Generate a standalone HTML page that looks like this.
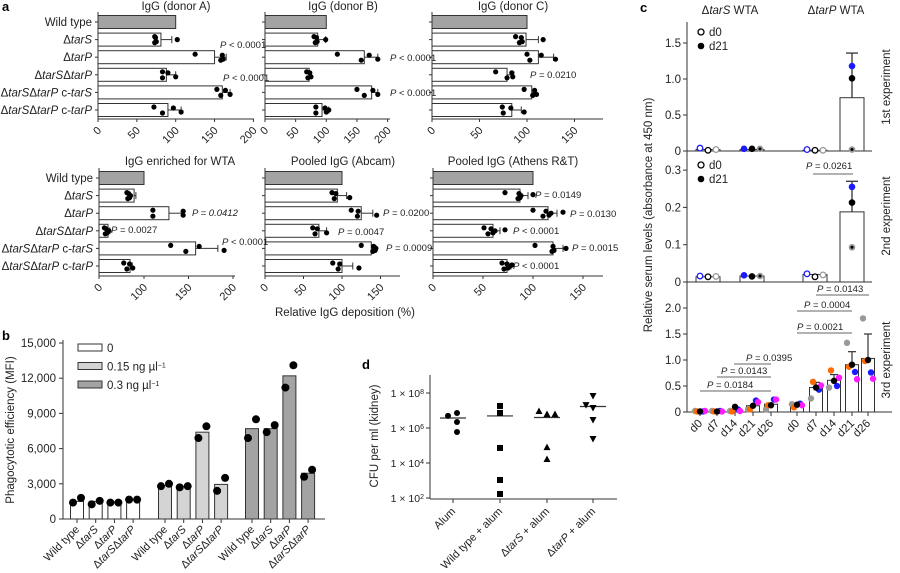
<!DOCTYPE html>
<html><head><meta charset="utf-8">
<style>
html,body{margin:0;padding:0;background:#fff;}
svg{display:block;font-family:"Liberation Sans",sans-serif;}
text{font-size:10.5px;fill:#222;}
.it{font-style:italic;}
.pl{font-size:13px;font-weight:bold;fill:#000;}
</style></head>
<body>
<svg id="fig" width="900" height="573" viewBox="0 0 900 573" xmlns="http://www.w3.org/2000/svg"></svg>
<script>
// ---------- Panel a data ----------
const aCategories = ['Wild type','Δ<tspan class="it">tarS</tspan>','Δ<tspan class="it">tarP</tspan>','Δ<tspan class="it">tarS</tspan>Δ<tspan class="it">tarP</tspan>','Δ<tspan class="it">tarS</tspan>Δ<tspan class="it">tarP</tspan> c-<tspan class="it">tarS</tspan>','Δ<tspan class="it">tarS</tspan>Δ<tspan class="it">tarP</tspan> c-<tspan class="it">tarP</tspan>'];
const donorAMeans = [100,81,150,88,160,90];
const donorAErr = [null,95,165,100,170,107];
const donorAPts = [[],[73,73,74,75,102],[125,158,160,161],[83,83,90,100],[153,158,164,170],[72,83,97,107]];
const donorBMeans = [100,86,162,72,174,93];
const donorBErr = [null,99,184,76,184,104];
const donorBPts = [[],[80,82,84,85,99],[118,157,170,184],[68,70,73,75],[150,162,176,184],[83,83,98,100,104]];
const donorCMeans = [100,99,112,79,105,84];
const donorCErr = [null,112,128,86,109,94];
const donorCPts = [[],[88,92,94,95,117],[100,103,115,130],[67,79,84,85],[97,106,108,110],[74,75,83,97]];
const wtaMeans = [100,78,128,20,158,69];
const wtaErr = [null,82,145,24,183,74];
const wtaPts = [[],[62,64,66,68,70],[110,110,144,144],[12,14,16,18,22],[130,147,162,190],[55,62,68,75]];
const abcamMeans = [100,94,125,70,138,100];
const abcamErr = [null,106,140,80,144,114];
const abcamPts = [[],[87,90,92,110],[112,120,121,145],[62,65,68,80],[125,140,141,143,144],[88,95,97,122]];
const athensMeans = [100,87,115,60,120,74];
const athensErr = [null,95,124,67,130,78];
const athensPts = [[],[72,85,86,87,88,100],[100,110,113,116,118,130],[51,55,58,60,62,72],[102,119,120,121,133],[69,71,74,75,77,79]];
const aTicksA = [0,50,100,150,200];
const aTicksC = [0,50,100,150];
const aTicksWTA = [0,100,150,200];
const aPLabels = [
 ['A','P < 0.0001',220,48,false],['A','P < 0.0001',223,81,false],
 ['B','P < 0.0001',390,61,false],['B','P < 0.0001',390,96,false],
 ['C','P = 0.0210',530,78,false],
 ['W','P = 0.0412',192,216,true],['W','P = 0.0027',111,233,false],['W','P < 0.0001',222,245,false],
 ['K','P = 0.0200',383,216,false],['K','P = 0.0047',338,235,false],['K','P = 0.0009',386,251,false],
 ['T','P = 0.0149',535,198,false],['T','P = 0.0130',570,217,false],['T','P < 0.0001',513,234,false],['T','P = 0.0015',572,251,false],['T','P < 0.0001',513,269,false]
];
// ---------- Panel b data ----------
const bCategories = ['Wild type','Δ<tspan class="it">tarS</tspan>','Δ<tspan class="it">tarP</tspan>','Δ<tspan class="it">tarS</tspan>Δ<tspan class="it">tarP</tspan>'];
const bDoses = ['0','0.15 ng µl<tspan baseline-shift="super" font-size="7">−1</tspan>','0.3 ng µl<tspan baseline-shift="super" font-size="7">−1</tspan>'];
const bMeans0 = [1500,1500,1450,1650];
const bMeans015 = [2850,2750,7400,2950];
const bMeans03 = [7700,7700,12200,3900];
const bPts0 = [[1400,1800],[1250,1550],[1400,1400],[1650,1650]];
const bPts015 = [[2800,3000],[2700,2800],[6900,7900],[2400,3500]];
const bPts03 = [[6900,8500],[7400,8000],[11200,13100],[3600,4200]];
const bTicks = [0,3000,6000,9000,12000,15000];
const bTickLabels = ['0','3,000','6,000','9,000','12,000','15,000'];
// ---------- Panel c data ----------
const cGroups = ['tarS d0','tarS d21','tarP d0','tarP d21'];
const c1Means = [0.02,0.02,0.01,0.74];
const c1Err = [null,null,null,1.36];
const c1Pts = [[0.04,0.01,0.02],[0.03,0.03,0.03],[0.02,0.01,0.01],[1.18,1.01,0.02]];
const c2Means = [0.014,0.016,0.02,0.188];
const c2Err = [null,null,null,0.27];
const c2Pts = [[0.016,0.014,0.015],[0.018,0.015,0.016],[0.022,0.014,0.019],[0.255,0.213,0.093]];
const c3Days = ['d0','d7','d14','d21','d26'];
const c3MeansS = [0.01,0.01,0.04,0.12,0.15];
const c3MeansP = [0.15,0.47,0.61,0.91,1.03];
const c3ErrP = [null,0.57,0.72,1.16,1.5];
// point order: gray, orange, blue, magenta, black
const c3PtsS = [[0.02,0.01,0.01,0.02,0.01],[0.02,0.01,0.02,0.01,0.01],[0.02,0.01,0.05,0.02,0.1],[0.05,0.05,0.22,0.19,0.12],[0.05,0.13,0.24,0.24,0.13]];
const c3PtsP = [[0.15,0.09,0.16,0.13,0.14],[0.26,0.58,0.43,0.51,0.47],[0.47,0.8,0.5,0.66,0.6],[1.33,0.87,0.77,0.63,0.91],[1.8,0.98,0.76,0.64,1.0]];
const c1Ticks = [0,0.5,1.0,1.5];
const c2Ticks = [0,0.1,0.2,0.3];
const c3Ticks = [0,0.5,1.0,1.5,2.0];
// ---------- Panel d data ----------
const dGroups = ['Alum','Wild type + alum','Δ<tspan class="it">tarS</tspan> + alum','Δ<tspan class="it">tarP</tspan> + alum'];
const dLogPts = [[6.69,6.86,6.34,5.77],[7.26,6.86,4.86,3.03,2.23],[6.97,6.8,6.8,4.91,4.23],[7.83,7.31,7.14,6.46,5.37]];
const dLogMedian = [6.57,6.69,6.6,7.23];
const dTicks = [2,4,6,8];

const svg = document.getElementById('fig');
const NS = 'http://www.w3.org/2000/svg';
function mk(tag, attrs, parent){
  const e = document.createElementNS(NS, tag);
  for (const k in attrs) e.setAttribute(k, attrs[k]);
  (parent||svg).appendChild(e);
  return e;
}
function txt(x,y,html,name,opts){
  opts = opts||{};
  const t = mk('text',{x:x,y:y,'text-anchor':opts.anchor||'start'});
  if (opts.rot!==undefined) t.setAttribute('transform','rotate('+opts.rot+' '+x+' '+y+')');
  if (opts.cls) t.setAttribute('class',opts.cls);
  if (opts.size) t.style.fontSize = opts.size+'px';
  t.innerHTML = html;
  
  
  return t;
}
function line(x1,y1,x2,y2,name,color,w){
  const l = mk('line',{x1:x1,y1:y1,x2:x2,y2:y2,stroke:color||'#333','stroke-width':w||1});
  
  
  return l;
}
function rect(x,y,w,h,fill,name){
  const r = mk('rect',{x:x,y:y,width:w,height:h,fill:fill,stroke:'#333','stroke-width':1});
  
  
  return r;
}
function dot(x,y,r,fill,name,stroke){
  const c = mk('circle',{cx:x,cy:y,r:r,fill:fill});
  if (stroke){ c.setAttribute('stroke',stroke); c.setAttribute('stroke-width',1.3); }
  
  
  return c;
}
function ptxt(x,y,s,name,italicAll){
  const h = '<tspan class="it">P</tspan>' + s.slice(1);
  return txt(x,y,h,name,{size:9.5, cls: italicAll?'it':undefined});
}

// ---------- Panel a ----------
txt(2,11,'a','panel-a-label',{cls:'pl'});
function hbar(cfg){
  const sc = cfg.scale, rows = cfg.rows, axisY = cfg.axisY;
  txt(cfg.titleX, cfg.titleY, cfg.title, 'subplot-title', {anchor:'middle', size:11.5});
  line(cfg.x0, cfg.top, cfg.x0, axisY, 'y-axis');
  line(cfg.x0, axisY, cfg.xEnd, axisY, 'x-axis');
  cfg.ticks.forEach(v=>{
    line(sc(v), axisY, sc(v), axisY+3, 'x-tick');
    txt(sc(v)+4, axisY+12, String(v), 'x-tick-label', {anchor:'end', rot:-45, size:11});
  });
  cfg.means.forEach((m,i)=>{
    const yc = rows[i];
    line(cfg.x0-3, yc, cfg.x0, yc, 'y-tick');
    if (cfg.labels) txt(cfg.x0-6, yc+4, aCategories[i], 'category-label', {anchor:'end', size:11.5});
    rect(cfg.x0, yc-6.5, sc(m)-cfg.x0, 13, i===0?'#a3a3a3':'#fff', 'bar-'+i);
    if (cfg.err[i]!==null){
      line(sc(m), yc, sc(cfg.err[i]), yc, 'error-bar');
      line(sc(cfg.err[i]), yc-3.5, sc(cfg.err[i]), yc+3.5, 'error-cap');
    }
    const offs=[-3,3,-2,2,0,-1];
    cfg.pts[i].forEach((p,j)=>{ dot(sc(p), yc+offs[j%6], 2.6, '#000', 'data-point'); });
  });
}
const rows1 = [22,39.6,57.2,74.8,92.4,110];
const rows2 = [178,195.6,213.2,230.8,248.4,266];
const lin = (x0,k)=> v=> x0 + v*k;
const scA = lin(98,0.777), scB = lin(265,0.613), scC = lin(432,0.95);
const scW = v=> v<=100 ? 99+v*0.45 : 144+(v-100)*0.89;
const scK = lin(265,0.77), scT = lin(433,1.0);
hbar({title:'IgG (donor A)',titleX:176,titleY:10,top:12,axisY:119,x0:98,xEnd:254,scale:scA,rows:rows1,ticks:aTicksA,means:donorAMeans,err:donorAErr,pts:donorAPts,labels:true});
hbar({title:'IgG (donor B)',titleX:343,titleY:10,top:12,axisY:119,x0:265,xEnd:390,scale:scB,rows:rows1,ticks:aTicksA,means:donorBMeans,err:donorBErr,pts:donorBPts});
hbar({title:'IgG (donor C)',titleX:513,titleY:10,top:12,axisY:119,x0:432,xEnd:603,scale:scC,rows:rows1,ticks:aTicksC,means:donorCMeans,err:donorCErr,pts:donorCPts});
hbar({title:'IgG enriched for WTA',titleX:180,titleY:165,top:168,axisY:276,x0:99,xEnd:235,scale:scW,rows:rows2,ticks:aTicksWTA,means:wtaMeans,err:wtaErr,pts:wtaPts,labels:true});
hbar({title:'Pooled IgG (Abcam)',titleX:343,titleY:165,top:168,axisY:276,x0:265,xEnd:400,scale:scK,rows:rows2,ticks:aTicksC,means:abcamMeans,err:abcamErr,pts:abcamPts});
hbar({title:'Pooled IgG (Athens R&amp;T)',titleX:513,titleY:165,top:168,axisY:276,x0:433,xEnd:603,scale:scT,rows:rows2,ticks:aTicksC,means:athensMeans,err:athensErr,pts:athensPts});
aPLabels.forEach(p=>{ ptxt(p[2],p[3],p[1],'p-value-label',p[4]); });
txt(345,316,'Relative IgG deposition (%)','x-axis-title',{anchor:'middle',size:11.5});

// ---------- Panel b ----------
txt(2,340,'b','panel-b-label',{cls:'pl'});
const bY = v=> 519 - v*(176/15000);
line(63,340,63,519,'y-axis');
line(63,519,325,519,'x-axis');
bTicks.forEach((v,i)=>{
  line(59,bY(v),63,bY(v),'y-tick');
  txt(56,bY(v)+4,bTickLabels[i],'y-tick-label',{anchor:'end',size:11.5});
});
txt(14,430,'Phagocytotic efficiency (MFI)','y-axis-title',{anchor:'middle',rot:-90,size:11.5});
const bFills = ['#fff','#d4d4d4','#a3a3a3'];
const bX0 = [77,165,252], bStep = 18.7;
[[bMeans0,bPts0],[bMeans015,bPts015],[bMeans03,bPts03]].forEach((g,gi)=>{
  g[0].forEach((m,i)=>{
    const xc = bX0[gi]+i*bStep;
    rect(xc-6.5,bY(m),13,519-bY(m),bFills[gi],'bar');
    line(xc,519,xc,523,'x-tick');
    txt(xc+3,530,bCategories[i],'x-tick-label',{anchor:'end',rot:-45,size:11});
    dot(xc-4,bY(g[1][i][0]),4,'#000','data-point');
    dot(xc+4,bY(g[1][i][1]),4,'#000','data-point');
  });
});
bDoses.forEach((d,i)=>{
  rect(78,344+i*18.5,24,7,bFills[i],'legend-swatch');
  txt(107,352+i*18.5,d,'legend-entry',{size:11.5});
});

// ---------- Panel d ----------
txt(362,369,'d','panel-d-label',{cls:'pl'});
const dY = lg=> 428 - (lg-6)*17.5;
line(430,375,430,499,'y-axis');
line(430,499,617,499,'x-axis');
dTicks.forEach(t=>{
  line(426,dY(t),430,dY(t),'y-tick');
  txt(424,dY(t)+4,'1 × 10<tspan baseline-shift="super" font-size="7">'+t+'</tspan>','y-tick-label',{anchor:'end',size:10.5});
});
txt(378,436,'CFU per ml (kidney)','y-axis-title',{anchor:'middle',rot:-90,size:11.5});
const dX = [453,500,547,593];
dLogPts.forEach((pts,gi)=>{
  const xc = dX[gi];
  line(xc,499,xc,503,'x-tick');
  txt(xc+3,512,dGroups[gi],'x-tick-label',{anchor:'end',rot:-45,size:11});
  line(xc-13,dY(dLogMedian[gi]),xc+13,dY(dLogMedian[gi]),'median-line','#333',1.2);
  pts.forEach((p,j)=>{
    const x = xc + (gi===0 ? [-5,4,4,4][j] : (gi===2 && j<3 ? [-8,0,8][j] : (gi===3 && j<3 ? [0,-7,0][j] : 0)));
    const y = dY(p);
    let m;
    if (gi===0) m = mk('circle',{cx:x,cy:y,r:3,fill:'#000'});
    else if (gi===1) m = mk('rect',{x:x-3,y:y-3,width:6,height:6,fill:'#000'});
    else if (gi===2) m = mk('polygon',{points:(x-3.5)+','+(y+3)+' '+(x+3.5)+','+(y+3)+' '+x+','+(y-3.5),fill:'#000'});
    else m = mk('polygon',{points:(x-3.5)+','+(y-3)+' '+(x+3.5)+','+(y-3)+' '+x+','+(y+3.5),fill:'#000'});
    
    
  });
});

// ---------- Panel c ----------
txt(640,12,'c','panel-c-label',{cls:'pl'});
txt(730,14,'Δ<tspan class="it">tarS</tspan> WTA','group-header',{anchor:'middle',size:11.5});
txt(836,14,'Δ<tspan class="it">tarP</tspan> WTA','group-header',{anchor:'middle',size:11.5});
line(687,22,687,412,'y-axis');
txt(652,215,'Relative serum levels (absorbance at 450 nm)','y-axis-title',{anchor:'middle',rot:-90,size:11.5});
const cX = [708,752,815,852];
const cPtCol = ['#1a1aff','#000','#999'];
function cPanel(y0,k,ticks,means,err,pts,name){
  const sc = v=> y0 - v*k;
  line(687,y0,872,y0,'x-axis-'+name);
  ticks.forEach(t=>{
    line(683,sc(t),687,sc(t),'y-tick');
    txt(681,sc(t)+4,t===0?'0':t.toFixed(1),'y-tick-label',{anchor:'end',size:11.5});
  });
  means.forEach((m,i)=>{
    const xc = cX[i];
    rect(xc-12,sc(m),24,y0-sc(m),'#fff','bar-'+cGroups[i].replace(' ','-'));
    if (err[i]!==null){
      line(xc,sc(m),xc,sc(err[i]),'error-bar','#333',1.3);
      line(xc-6,sc(err[i]),xc+6,sc(err[i]),'error-cap','#333',1.3);
    }
    const open = (i%2===0);
    pts[i].forEach((p,j)=>{
      const x = xc + (i===3 ? 0 : (j-1)*8);
      if (open) dot(x,sc(p),2.8,'#fff','data-point',cPtCol[j]);
      else { dot(x,sc(p),3.3,cPtCol[j],'data-point'); if (j===2) dot(x,sc(p),1.5,'#000','data-point-center'); }
    });
  });
  return sc;
}
cPanel(151,72,c1Ticks,c1Means,c1Err,c1Pts,'1st');
cPanel(282,373,c2Ticks,c2Means,c2Err,c2Pts,'2nd');
[32,165].forEach(y=>{
  dot(701,y,3,'#fff','legend-marker-d0','#000');
  txt(709,y+4,'d0','legend-entry',{size:11.5});
  dot(701,y+14,3.3,'#000','legend-marker-d21');
  txt(709,y+18,'d21','legend-entry',{size:11.5});
});
line(813,174,853,174,'significance-line','#666');
ptxt(806,169,'P = 0.0261','p-value-label');
// 3rd experiment
const c3Y = v=> 412 - v*52;
line(687,412,892,412,'x-axis-3rd');
c3Ticks.forEach(t=>{
  line(683,c3Y(t),687,c3Y(t),'y-tick');
  txt(681,c3Y(t)+4,t===0?'0':t.toFixed(1),'y-tick-label',{anchor:'end',size:11.5});
});
const c3XS = [700,717,735,753,771], c3XP = [797,816,834,852,868];
const c3Col = ['#999','#ff6a00','#1a1aff','#ff1aff','#000'];
const c3Off = [-5,-3,3,5,0];
function c3Group(xs,means,errs,pts,nm){
  means.forEach((m,i)=>{
    const xc = xs[i];
    rect(xc-6.5,c3Y(m),13,412-c3Y(m),'#fff','bar-'+nm+'-'+c3Days[i]);
    if (errs && errs[i]!==null){
      line(xc,c3Y(m),xc,c3Y(errs[i]),'error-bar','#333',1.2);
      line(xc-4,c3Y(errs[i]),xc+4,c3Y(errs[i]),'error-cap','#333',1.2);
    }
    line(xc,412,xc,416,'x-tick');
    txt(xc+3,424,c3Days[i],'x-tick-label',{anchor:'end',rot:-45,size:11.5});
    pts[i].forEach((p,j)=>{ dot(xc+c3Off[j],c3Y(p),3.2,c3Col[j],'data-point'); });
  });
}
c3Group(c3XS,c3MeansS,null,c3PtsS,'tarS');
c3Group(c3XP,c3MeansP,c3ErrP,c3PtsP,'tarP');
[[734,771,364,'P = 0.0395',746],[717,771,377,'P = 0.0143',721],[700,771,391,'P = 0.0184',707],
 [816,869,295,'P = 0.0143',817],[797,852,311,'P = 0.0004',804],[797,852,333,'P = 0.0021',797]].forEach(s=>{
  line(s[0],s[2],s[1],s[2],'significance-line','#666');
  ptxt(s[4],s[2]-3,s[3],'p-value-label');
});
txt(890,87,'1st experiment','experiment-label',{anchor:'middle',rot:-90,size:11.5});
txt(890,216,'2nd experiment','experiment-label',{anchor:'middle',rot:-90,size:11.5});
txt(890,360,'3rd experiment','experiment-label',{anchor:'middle',rot:-90,size:11.5});
</script>
</body></html>
